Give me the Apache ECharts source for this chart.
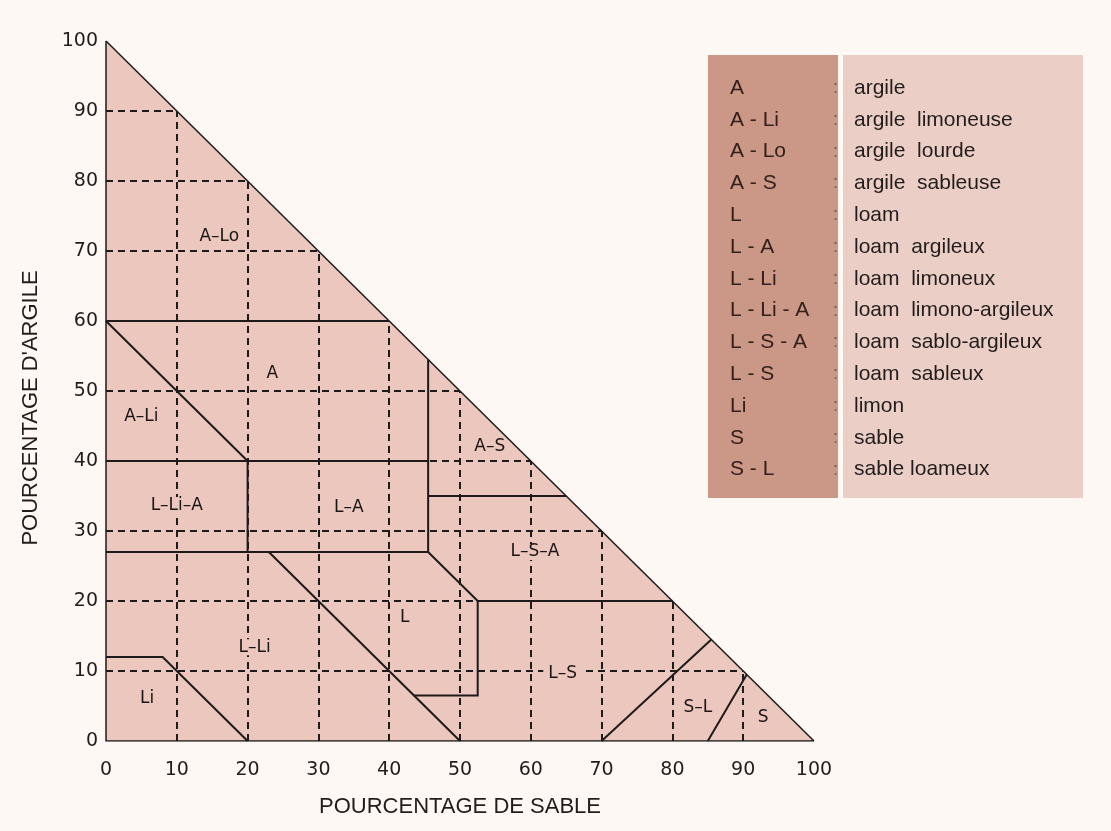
<!DOCTYPE html>
<html>
<head>
<meta charset="utf-8">
<script src="https://cdn.jsdelivr.net/npm/echarts@6/dist/echarts.min.js"></script>
<style>
  html, body { margin: 0; padding: 0; background: #fdf8f3; }
  #main { width: 1111px; height: 831px; }
</style>
</head>
<body>
<div id="main"></div>
<script>
// tick labels (percent)
const axisTicks = [0, 10, 20, 30, 40, 50, 60, 70, 80, 90, 100];
const gridSteps = [10, 20, 30, 40, 50, 60, 70, 80, 90];

// outer triangle: sand + clay = 100
const triangle = [[0, 100], [100, 0]];

// class boundaries, [sand, clay]
const boundaries = [
    [[0, 60], [40, 60]],
    [[0, 60], [20, 40]],
    [[0, 40], [45.5, 40]],
    [[20, 40], [20, 27]],
    [[45.5, 54.5], [45.5, 27]],
    [[0, 27], [45.5, 27], [52.5, 20], [80, 20]],
    [[45.5, 35], [65, 35]],
    [[23, 27], [50, 0]],
    [[43.5, 6.5], [52.5, 6.5], [52.5, 20]],
    [[0, 12], [8, 12], [20, 0]],
    [[70, 0], [85.5, 14.5]],
    [[85, 0], [90.5, 9.5]]
];

// class labels inside the triangle
const zoneNames = ["A–Lo", "A", "A–Li", "L–Li–A", "L–A", "A–S", "L–S–A", "L", "L–Li", "Li", "L–S", "S–L", "S"];
const zonePos = [[16, 72], [23.5, 52.5], [5, 46.3], [10, 33.7], [34.3, 33.3], [54.2, 42], [60.6, 27],
    [42.2, 17.6], [21, 13.4], [5.8, 6], [64.5, 9.6], [83.6, 4.8], [92.8, 3.4]];
// labels that sit on a dashed line and hide it
const maskedZones = ["L–S", "L–Li", "L–Li–A", "L–S–A"];

// legend
const legendCodes = ["A", "A - Li", "A - Lo", "A - S", "L", "L - A", "L - Li", "L - Li - A", "L - S - A", "L - S", "Li", "S", "S - L"];
const legendNames = ["argile", "argile  limoneuse", "argile  lourde", "argile  sableuse", "loam", "loam  argileux",
    "loam  limoneux", "loam  limono-argileux", "loam  sablo-argileux", "loam  sableux", "limon", "sable", "sable loameux"];

let myChart = echarts.init(document.getElementById("main"));

let fill = "#ebc7bd";
let ink = "#1e1a1a";
let zoneFont = "17px 'DejaVu Sans'";

let measure = document.createElement("canvas").getContext("2d");
measure.font = zoneFont;

let dashed = [];
gridSteps.forEach((t) => {
    dashed.push({ coords: [[0, t], [100 - t, t]] });
    dashed.push({ coords: [[t, 0], [t, 100 - t]] });
});

let graphic = [
    { type: "rect", shape: { x: 708, y: 55, width: 130, height: 443 }, style: { fill: "#cb9786" }, z: 1 },
    { type: "rect", shape: { x: 843, y: 55, width: 240, height: 443 }, style: { fill: "#ebcfc7" }, z: 1 }
];
legendCodes.forEach((code, i) => {
    let y = 88 + i * 31.8;
    graphic.push({ type: "text", x: 730, y: y, z: 2,
        style: { text: code, fill: "#33201a", font: "21px 'Liberation Sans'", textVerticalAlign: "middle" } });
    graphic.push({ type: "text", x: 833, y: y, z: 2,
        style: { text: ":", fill: "#7a5a50", font: "18px 'Liberation Sans'", textVerticalAlign: "middle" } });
    graphic.push({ type: "text", x: 854, y: y, z: 2,
        style: { text: legendNames[i], fill: "#221c1c", font: "21px 'Liberation Sans'", textVerticalAlign: "middle" } });
});

let zoneData = zoneNames.map((n, i) => {
    let item = { name: n, value: zonePos[i] };
    if (maskedZones.includes(n)) {
        item.symbol = "rect";
        item.symbolSize = [measure.measureText(n).width + 10, 16];
        item.itemStyle = { color: fill };
    }
    return item;
});

let option = {
    backgroundColor: "#fdf8f3",
    animation: false,
    grid: { left: 106, top: 41, width: 708, height: 700 },
    xAxis: {
        type: "value",
        min: 0,
        max: 100,
        interval: 10,
        name: "POURCENTAGE DE SABLE",
        nameLocation: "middle",
        nameGap: 55,
        nameTextStyle: { fontFamily: "Liberation Sans", fontSize: 22, color: "#221c1c" },
        axisLine: { show: false },
        axisTick: { show: false },
        splitLine: { show: false },
        axisLabel: { margin: 20, fontFamily: "DejaVu Sans", fontSize: 19, color: "#221c1c",
            formatter: (v) => (axisTicks.includes(v) ? String(v) : "") }
    },
    yAxis: {
        type: "value",
        min: 0,
        max: 100,
        interval: 10,
        name: "POURCENTAGE D'ARGILE",
        nameLocation: "middle",
        nameRotate: 90,
        nameGap: 64,
        nameTextStyle: { fontFamily: "Liberation Sans", fontSize: 22, color: "#221c1c", padding: [0, 34, 0, 0] },
        axisLine: { show: false },
        axisTick: { show: false },
        splitLine: { show: false },
        axisLabel: { margin: 8, fontFamily: "DejaVu Sans", fontSize: 19, color: "#221c1c" }
    },
    graphic: graphic,
    series: [
        {
            type: "line",
            data: triangle,
            symbol: "none",
            lineStyle: { color: ink, width: 1.5 },
            areaStyle: { color: fill, opacity: 1 },
            z: 1
        },
        {
            // the two legs of the triangle
            type: "lines",
            coordinateSystem: "cartesian2d",
            polyline: true,
            data: [{ coords: [[0, 100], [0, 0], [100, 0]] }],
            lineStyle: { color: ink, width: 1.5, opacity: 1 },
            z: 2
        },
        {
            type: "lines",
            coordinateSystem: "cartesian2d",
            data: dashed,
            lineStyle: { color: ink, width: 2, type: [7, 5], opacity: 1 },
            z: 3
        },
        {
            type: "lines",
            coordinateSystem: "cartesian2d",
            polyline: true,
            data: boundaries.map((c) => ({ coords: c })),
            lineStyle: { color: ink, width: 2, opacity: 1 },
            z: 4
        },
        {
            type: "scatter",
            symbolSize: 1,
            itemStyle: { color: "rgba(0,0,0,0)", opacity: 1 },
            data: zoneData,
            label: {
                show: true,
                position: "inside",
                formatter: (p) => p.name,
                fontFamily: "DejaVu Sans",
                fontSize: 17,
                color: "#1a1414",
                textBorderWidth: 0,
                opacity: 1
            },
            emphasis: { disabled: true },
            z: 5
        }
    ]
};

myChart.setOption(option);
</script>
</body>
</html>
